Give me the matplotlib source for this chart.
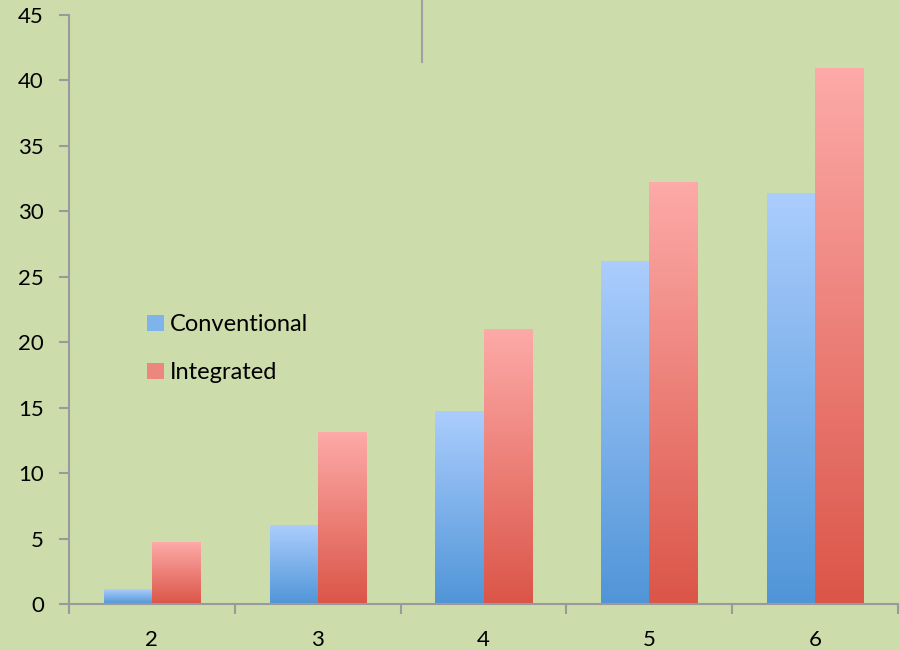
import matplotlib
matplotlib.use("Agg")
import matplotlib.pyplot as plt
import numpy as np
from matplotlib.colors import LinearSegmentedColormap
from matplotlib.lines import Line2D
from matplotlib.patches import Patch

plt.rcParams["font.family"] = ["Lato", "DejaVu Sans"]

categories = ["2", "3", "4", "5", "6"]
conventional = [1.1, 6.0, 14.7, 26.2, 31.4]
integrated = [4.7, 13.1, 21.0, 32.2, 40.9]
series_names = ["Conventional", "Integrated"]

BG = "#cddcab"
AXIS_GREY = "#9a9a9a"
blue_cmap = LinearSegmentedColormap.from_list("blue", ["#5095d8", "#abcdfd"])
red_cmap = LinearSegmentedColormap.from_list("red", ["#db5548", "#fdaaa8"])

fig = plt.figure(figsize=(9, 6.5), dpi=100, facecolor=BG)
ax = fig.add_axes([69 / 900, 46 / 650, 829 / 900, 589 / 650])
ax.set_facecolor(BG)

x = np.arange(len(categories))
width = 0.29
grad = np.linspace(0, 1, 256).reshape(-1, 1)


def gradient_bars(xs, values, cmap):
    bars = ax.bar(xs, values, width=width, color="none", edgecolor="none", zorder=2)
    for rect in bars:
        x0, y0 = rect.get_x(), rect.get_y()
        w, h = rect.get_width(), rect.get_height()
        ax.imshow(grad, cmap=cmap, origin="lower", aspect="auto",
                  extent=[x0, x0 + w, y0, y0 + h], zorder=2, interpolation="bilinear")
    return bars


gradient_bars(x - width / 2, conventional, blue_cmap)
gradient_bars(x + width / 2, integrated, red_cmap)

ax.set_xlim(-0.5, len(categories) - 0.5)
ax.set_ylim(0, 45)
ax.set_yticks(np.arange(0, 46, 5))

ax.set_xticks(x)
ax.set_xticklabels(categories)
ax.set_xticks(np.arange(-0.5, len(categories)), minor=True)
ax.tick_params(axis="x", which="major", length=0, pad=19, labelsize=16)
ax.tick_params(axis="x", which="minor", length=7, width=1.5, color=AXIS_GREY, direction="out")
ax.tick_params(axis="y", length=7, width=1.5, color=AXIS_GREY, pad=11, labelsize=16)

for side in ["top", "right"]:
    ax.spines[side].set_visible(False)
for side in ["left", "bottom"]:
    ax.spines[side].set_color(AXIS_GREY)
    ax.spines[side].set_linewidth(1.5)
    ax.spines[side].set_zorder(3)

handles = [Patch(facecolor="#7fb3ec", edgecolor="none"),
           Patch(facecolor="#ee8680", edgecolor="none")]
fig.legend(handles, series_names, loc="upper left", bbox_to_anchor=(126 / 900, 1 - 293 / 650),
           frameon=False, fontsize=17, handlelength=0.7, handleheight=0.7,
           handletextpad=0.25, labelspacing=1.15)

# stray vertical rule near the top
fig.add_artist(Line2D([422 / 900, 422 / 900], [1, 1 - 62 / 650], color="#a0a0a0", linewidth=1.5))

fig.savefig("out.png", dpi=100, facecolor=BG)
